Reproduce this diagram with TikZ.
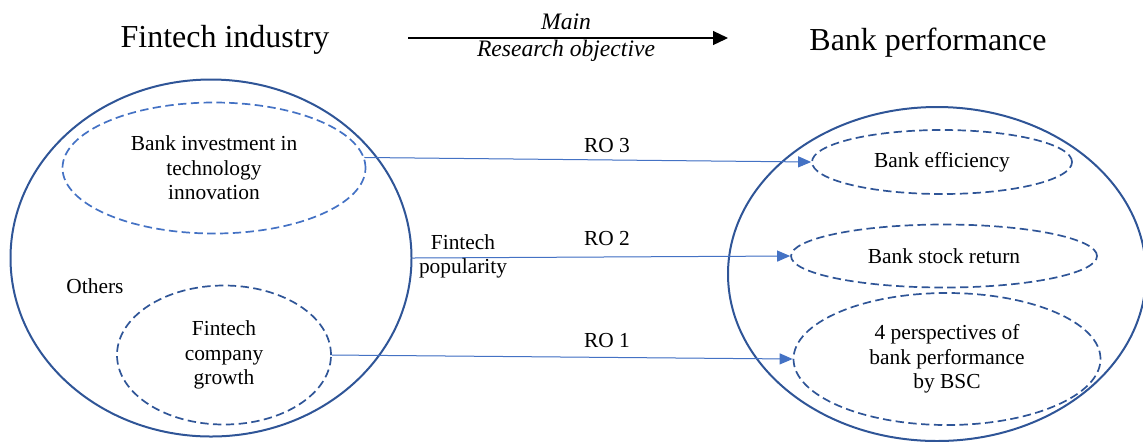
\documentclass[tikz,border=0pt]{standalone}
\usepackage{fontspec}
\setmainfont{Liberation Serif}
\usetikzlibrary{shapes.geometric}
\usetikzlibrary{arrows.meta}

\definecolor{darkblue}{HTML}{2F5597}
\definecolor{lightblue}{HTML}{4472C4}

\tikzset{
  bigset/.style={ellipse, draw=darkblue, line width=1pt, inner sep=0pt},
  subset/.style={ellipse, draw=darkblue, line width=0.85pt, dash pattern=on 4.2pt off 2.2pt,
                 inner sep=0pt, align=center, font=\fontsize{10.7}{12.3}\selectfont},
  plain/.style={align=center, inner sep=0pt, font=\fontsize{10.7}{12.3}\selectfont},
  roarrow/.style={draw=lightblue, line width=0.5pt, -{Triangle[length=6.5pt,width=5.5pt]}, fill=lightblue},
}

\begin{document}
\begin{tikzpicture}[x=0.5pt, y=-0.5pt]
\useasboundingbox (0,0) rectangle (1143,441);

% headings
\node[font=\fontsize{16}{19}\selectfont] (industry) at (225, 40) {Fintech industry};
\node[font=\fontsize{16}{19}\selectfont] (performance) at (928, 43) {Bank performance};

\coordinate (mainfrom) at (408, 38);
\coordinate (mainto) at (728, 38);
\path[draw=black, line width=0.6pt, -{Triangle[length=7.5pt,width=7pt]}] (mainfrom) -- (mainto);
\node[font=\fontsize{11.8}{14}\selectfont\itshape] (main) at (566, 22) {Main};
\node[font=\fontsize{11.8}{14}\selectfont\itshape] (objective) at (566, 51) {Research objective};

% left side
\node[bigset, minimum width=200.5pt, minimum height=178.5pt] (fintech) at (211, 258) {};
\node[subset, draw=lightblue, minimum width=151.5pt, minimum height=65.5pt] (bankinv) at (214, 168)
  {Bank investment in\\technology\\innovation};
\node[subset, minimum width=107pt, minimum height=69.5pt] (growth) at (224, 355)
  {Fintech\\company\\growth};
\node[plain] (others) at (95, 286) {Others};

% right side
\node[bigset, minimum width=209pt, minimum height=167pt] (bank) at (937, 274) {};
\node[subset, minimum width=130pt, minimum height=32pt] (effic) at (942, 162) {Bank efficiency};
\node[subset, minimum width=153pt, minimum height=31.5pt] (stock) at (944, 256) {Bank stock return};
\node[subset, minimum width=153.5pt, minimum height=66pt] (persp) at (947, 359)
  {4 perspectives of\\bank performance\\by BSC};

% research objectives
\path[roarrow] (bankinv.4) -- (effic.west);
\path[roarrow] (fintech.east) -- (stock.west);
\path[roarrow] (growth.east) -- (persp.west);

\node[plain] (ro3) at (607, 146) {RO 3};
\node[plain] (ro2) at (607, 239) {RO 2};
\node[plain] (ro1) at (607, 341) {RO 1};
\node[plain, font=\fontsize{10.7}{12}\selectfont] (popularity) at (463, 256) {Fintech\\popularity};

\end{tikzpicture}
\end{document}
